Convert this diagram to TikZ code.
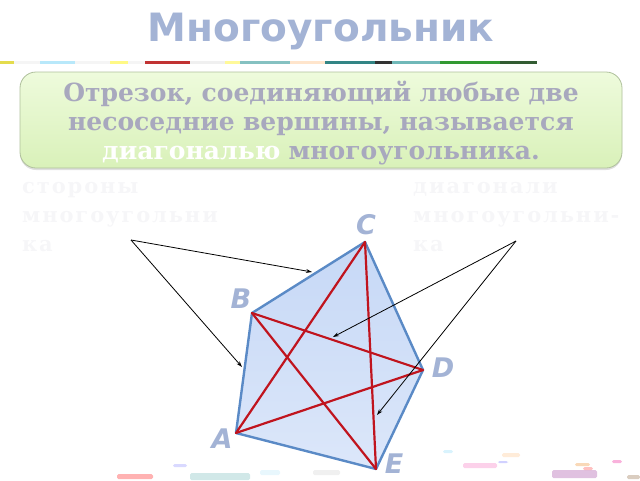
\documentclass[tikz,border=0pt]{standalone}
\usepackage{fontspec}
\setmainfont{DejaVu Serif}
\newfontfamily\headfont{DejaVu Sans}
\usetikzlibrary{arrows.meta,shadows}

\definecolor{titleblue}{HTML}{A3B3D5}
\definecolor{boxtext}{HTML}{A8A8BE}
\definecolor{edgeblue}{HTML}{5A8AC6}
\definecolor{fillblue}{HTML}{C6D8F6}
\definecolor{fillblue2}{HTML}{DCE7FA}
\definecolor{diagred}{HTML}{C0141E}
\definecolor{boxgreen}{HTML}{EEFBDC}
\definecolor{boxgreen2}{HTML}{D9F1B9}
\definecolor{boxedge}{HTML}{AFC09C}
\definecolor{ghost}{HTML}{F6F6F8}

\begin{document}
\begin{tikzpicture}
  [x=1pt,y=-1pt,
   vlabel/.style={text=titleblue,font=\headfont\bfseries\itshape\fontsize{27}{27}\selectfont,inner sep=0pt},
   ghosttext/.style={text=ghost,align=left,anchor=north west,inner sep=0pt,
     font=\bfseries\fontsize{21}{29}\selectfont\addfontfeature{LetterSpace=9}},
   side/.style={draw=edgeblue,line width=2.4pt,line join=round},
   diag/.style={draw=diagred,line width=2.2pt,line cap=round},
   pointer/.style={draw=black,line width=0.8pt,-{Stealth[open,length=6pt,width=4pt]}},
   confetti/.style={rounded corners=1.5pt,opacity=0.3}]
  \useasboundingbox (0,0) rectangle (640,480);

  % title and strip
  \node[text=titleblue,font=\headfont\bfseries\fontsize{39}{39}\selectfont] (title) at (321,31) {Многоугольник};
  \foreach \xa/\xb/\col in {0/14/yellow!85!black,14/40/white!90!gray,40/75/cyan!35,75/110/white!90!gray,
      110/128/yellow!60,128/145/white!90!gray,145/190/red!70!black,190/225/white!85!gray,
      225/240/yellow!50,240/290/teal!60,290/325/orange!25,325/375/teal!80!black,375/392/black,
      392/440/teal!70,440/500/green!50!black,500/537/black!80!green}
    \fill[\col,opacity=0.8] (\xa,61) rectangle (\xb,63.5);

  % definition box
  \node[draw=boxedge,line width=0.8pt,rounded corners=16pt,top color=boxgreen,bottom color=boxgreen2,
        drop shadow={opacity=0.25,shadow xshift=0pt,shadow yshift=-2pt},
        minimum width=602pt,minimum height=96pt] (defbox) at (321,120) {};
  \node[text width=600pt,align=center,text=boxtext,font=\bfseries\fontsize{25}{29}\selectfont]
    (deftext) at (321,123) {Отрезок, соединяющий любые две\\несоседние вершины, называется\\\textcolor{white}{диагональю} многоугольника.};

  % faint captions
  \node[ghosttext] (sidecap) at (22,182) {стороны\\многоугольни\\ка};
  \node[ghosttext] (diagcap) at (413,182) {диагонали\\многоугольни-\\ка};

  % confetti
  \foreach \xa/\ya/\xb/\yb/\col in {117/474/153/479/red,190/473/250/480/teal!60,173/464/187/467/blue!50,
      260/470/280/475/cyan!30,313/470/340/475/gray!40,443/450/453/453/cyan!50,463/463/497/468/magenta!60,
      502/453/520/457/orange!50,498/461/508/463/blue!60,552/470/597/478/violet!80,575/463/590/466/orange!70!brown,
      583/467/593/470/red!80,612/460/622/463/magenta,627/475/640/479/brown!70!black}
    \fill[confetti,\col] (\xa,\ya) rectangle (\xb,\yb);

  % pentagon
  \coordinate (C) at (365,242);
  \coordinate (B) at (252,313);
  \coordinate (A) at (236,433);
  \coordinate (E) at (376,469);
  \coordinate (D) at (423,370);
  \fill[top color=fillblue,bottom color=fillblue2] (A) -- (B) -- (C) -- (D) -- (E) -- cycle;
  \draw[side] (A) -- (B) -- (C) -- (D) -- (E) -- cycle;
  \foreach \from/\to in {A/C,A/D,B/D,B/E,C/E}
    \draw[diag] (\from) -- (\to);

  \node[vlabel] (labC) at (366,225) {C};
  \node[vlabel] (labB) at (241,299) {B};
  \node[vlabel] (labD) at (443,368) {D};
  \node[vlabel] (labA) at (222,439) {A};
  \node[vlabel] (labE) at (394,464) {E};

  % pointers
  \coordinate (sidefrom) at (131,240);
  \coordinate (diagfrom) at (516,241);
  \coordinate (onBC) at (312,272);
  \coordinate (onAB) at (242,367);
  \coordinate (onBD) at (333,337);
  \coordinate (onCE) at (377,415);
  \foreach \from/\to in {sidefrom/onBC,sidefrom/onAB,diagfrom/onBD,diagfrom/onCE}
    \draw[pointer] (\from) -- (\to);
\end{tikzpicture}
\end{document}
